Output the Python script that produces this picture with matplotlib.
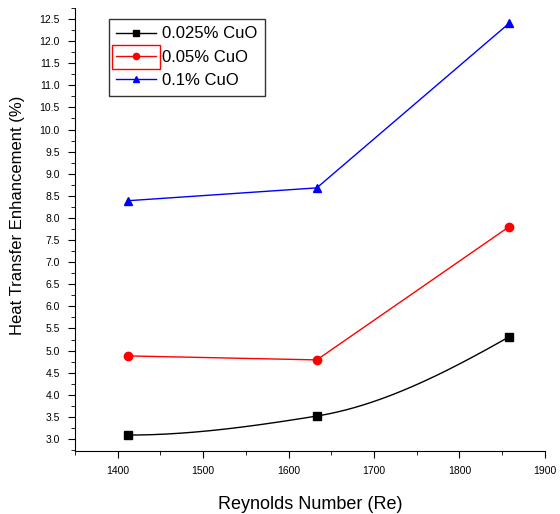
import numpy as np
import matplotlib
matplotlib.use("Agg")
import matplotlib.pyplot as plt
from matplotlib.ticker import MultipleLocator
from matplotlib.patches import Rectangle

plt.rcParams['font.family'] = ['Liberation Sans', 'DejaVu Sans']

reynolds = [1412, 1633, 1858]
cuo_0025 = [3.09, 3.52, 5.31]
cuo_005 = [4.88, 4.79, 7.80]
cuo_01 = [8.39, 8.68, 12.40]


def pchip(x, y, xs):
    # monotone cubic through the points (no scipy needed)
    x = np.asarray(x, float)
    y = np.asarray(y, float)
    h = np.diff(x)
    d = np.diff(y) / h
    m = np.zeros_like(y)
    for k in range(1, len(x) - 1):
        if d[k - 1] * d[k] > 0:
            w1 = 2 * h[k] + h[k - 1]
            w2 = h[k] + 2 * h[k - 1]
            m[k] = (w1 + w2) / (w1 / d[k - 1] + w2 / d[k])
    m0 = ((2 * h[0] + h[1]) * d[0] - h[0] * d[1]) / (h[0] + h[1])
    m[0] = m0 if m0 * d[0] > 0 else 0
    mn = ((2 * h[-1] + h[-2]) * d[-1] - h[-1] * d[-2]) / (h[-1] + h[-2])
    m[-1] = mn if mn * d[-1] > 0 else 0
    i = np.clip(np.searchsorted(x, xs) - 1, 0, len(x) - 2)
    t = (xs - x[i]) / h[i]
    h00 = 2 * t**3 - 3 * t**2 + 1
    h10 = t**3 - 2 * t**2 + t
    h01 = -2 * t**3 + 3 * t**2
    h11 = t**3 - t**2
    return h00 * y[i] + h10 * h[i] * m[i] + h01 * y[i + 1] + h11 * h[i] * m[i + 1]


fig = plt.figure(figsize=(5.6, 5.14), dpi=100)
ax = fig.add_axes([0.134, 0.1226, 0.839, 0.862])

xs = np.linspace(reynolds[0], reynolds[-1], 300)
ax.plot(xs, pchip(reynolds, cuo_0025, xs), color='black', lw=1)
ax.plot(reynolds, cuo_0025, 's', color='black', ms=6)
ax.plot([], [], '-s', color='black', lw=1, ms=6, label='0.025% CuO')

ax.plot(reynolds, cuo_005, '-o', color='red', lw=1, ms=6, label='0.05% CuO')
ax.plot(reynolds, cuo_01, '-^', color='blue', lw=1, ms=6, label='0.1% CuO')

ax.set_xlim(1350, 1900)
ax.set_ylim(2.73, 12.75)
ax.xaxis.set_major_locator(MultipleLocator(100))
ax.xaxis.set_minor_locator(MultipleLocator(50))
ax.yaxis.set_minor_locator(MultipleLocator(0.25))
ax.set_yticks(np.arange(3.0, 12.51, 0.5))
ax.yaxis.set_major_formatter(plt.FormatStrFormatter('%.1f'))

for s in ['top', 'right']:
    ax.spines[s].set_visible(False)
ax.tick_params(which='major', direction='out', length=5, labelsize=7.5, pad=6)
ax.tick_params(which='minor', direction='out', length=3)

ax.set_xlabel('Reynolds Number (Re)', fontsize=13, labelpad=14)
ax.set_ylabel('Heat Transfer Enhancement (%)', fontsize=12, labelpad=8)
ax.yaxis.set_label_coords(-0.107, 0.533)

leg = ax.legend(loc='upper left', bbox_to_anchor=(0.072, 0.975), fontsize=12,
                frameon=True, fancybox=False, edgecolor='black',
                handlelength=2.4, handletextpad=0.35, borderpad=0.45,
                labelspacing=0.5, borderaxespad=0, markerscale=0.75)
leg.get_frame().set_linewidth(1)

# red selection box around the second legend handle, as in the original
fig.canvas.draw()
r = fig.canvas.get_renderer()
tb = leg.get_texts()[1].get_window_extent(r)
hb = leg.legend_handles[1].get_window_extent(r)
cy = (tb.y0 + tb.y1) / 2
box = Rectangle((hb.x0 - 1, cy - 12), hb.width + 2, 24, transform=None,
                fill=False, edgecolor='red', lw=1)
fig.patches.append(box)

fig.savefig('out.png', dpi=100)
